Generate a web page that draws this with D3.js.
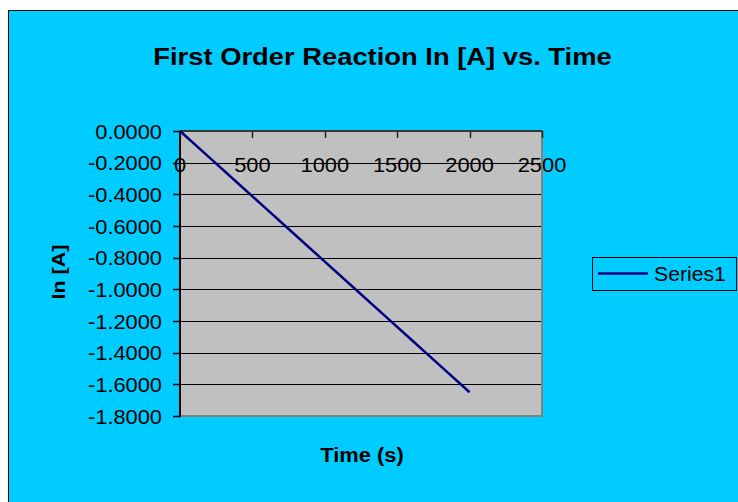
<!DOCTYPE html>
<html>
<head>
<meta charset="utf-8">
<script src="https://cdn.jsdelivr.net/npm/d3@7"></script>
<style>
    html, body { margin: 0; padding: 0; background: #ffffff; }
    svg { display: block; }
    text { font-family: "Liberation Sans", Arial, sans-serif; fill: #000; }
</style>
</head>
<body>
<svg id="chart" width="738" height="502"></svg>
<script>
// data
var times = [0, 200, 400, 600, 800, 1000, 1200, 1400, 1600, 1800, 2000];
var lnA = [0, -0.165, -0.33, -0.495, -0.66, -0.825, -0.99, -1.155, -1.32, -1.485, -1.65];
var xTicks = [0, 500, 1000, 1500, 2000, 2500];
var yTicks = [0, -0.2, -0.4, -0.6, -0.8, -1.0, -1.2, -1.4, -1.6, -1.8];
var seriesName = "Series1";

var svg = d3.select('#chart');

// chart area background + outer border (runs off the right/bottom edge)
svg.append('rect')
    .attr('x', 8.5).attr('y', 10.5)
    .attr('width', 800).attr('height', 600)
    .attr('fill', '#00CCFF')
    .attr('stroke', '#000').attr('stroke-width', 1);

var plot = {left: 180, right: 542, top: 131, bottom: 416};

var x = d3.scaleLinear().domain([0, 2500]).range([plot.left, plot.right]);
var y = d3.scaleLinear().domain([-1.8, 0]).range([plot.bottom, plot.top]);

// stretched text helper, the original is a bit wider than Arial
function label(g, str, px, py, size, sx, anchor, weight, rot) {
    var t = g.append('text')
        .attr('transform', 'translate(' + px + ',' + py + ')' + (rot ? ' rotate(' + rot + ')' : '') + ' scale(' + sx + ',1)')
        .attr('text-anchor', anchor)
        .style('font-size', size + 'px')
        .style('font-weight', weight || 'normal')
        .text(str);
    return t;
}

// plot area
svg.append('rect')
    .attr('x', plot.left).attr('y', plot.top)
    .attr('width', plot.right - plot.left)
    .attr('height', plot.bottom - plot.top)
    .attr('fill', '#C0C0C0')
    .attr('stroke', '#808080').attr('stroke-width', 2);

// gridlines
svg.append('g').selectAll('line')
    .data(yTicks.filter(function (d) { return d < 0 && d > -1.8; }))
    .enter().append('line')
    .attr('x1', plot.left).attr('x2', plot.right - 1)
    .attr('y1', function (d) { return Math.round(y(d)) + 0.5; })
    .attr('y2', function (d) { return Math.round(y(d)) + 0.5; })
    .attr('stroke', '#000').attr('stroke-width', 1);

// y axis
var yAxis = svg.append('g');
yAxis.append('line')
    .attr('x1', plot.left).attr('x2', plot.left)
    .attr('y1', plot.top).attr('y2', plot.bottom + 1)
    .attr('stroke', '#000').attr('stroke-width', 2);
yAxis.selectAll('line.tick')
    .data(yTicks)
    .enter().append('line')
    .attr('class', 'tick')
    .attr('x1', plot.left - 7).attr('x2', plot.left)
    .attr('y1', function (d) { return Math.round(y(d)) + 0.5; })
    .attr('y2', function (d) { return Math.round(y(d)) + 0.5; })
    .attr('stroke', '#000').attr('stroke-width', 1.5);
yTicks.forEach(function (d) {
    label(yAxis, d3.format('.4f')(d).replace('−', '-'), 162, y(d) + 7.5, 21, 1.04, 'end');
});

// x axis sits at y = 0 (top of the plot)
var xAxis = svg.append('g');
xAxis.append('line')
    .attr('x1', plot.left).attr('x2', plot.right)
    .attr('y1', plot.top).attr('y2', plot.top)
    .attr('stroke', '#202020').attr('stroke-width', 1.5);
xAxis.selectAll('line.tick')
    .data(xTicks)
    .enter().append('line')
    .attr('class', 'tick')
    .attr('x1', function (d) { return Math.round(x(d)) + 0.5; })
    .attr('x2', function (d) { return Math.round(x(d)) + 0.5; })
    .attr('y1', plot.top).attr('y2', plot.top + 7)
    .attr('stroke', '#202020').attr('stroke-width', 1.5);
xTicks.forEach(function (d) {
    label(xAxis, String(d), x(d), 172, 21, 1.04, 'middle');
});

// series line
var line = d3.line()
    .x(function (d, i) { return x(times[i]); })
    .y(function (d) { return y(d); });
svg.append('path')
    .datum(lnA)
    .attr('d', line)
    .attr('fill', 'none')
    .attr('stroke', '#000080')
    .attr('stroke-width', 2.5);

// titles
label(svg, 'First Order Reaction In [A] vs. Time', 382.5, 65, 24, 1.14, 'middle', 'bold');
label(svg, 'Time (s)', 362, 462, 20, 1.095, 'middle', 'bold');
label(svg, 'ln [A]', 65, 272, 19, 1.13, 'middle', 'bold', -90);

// legend
var legend = svg.append('g');
legend.append('rect')
    .attr('x', 592.5).attr('y', 257.5)
    .attr('width', 144).attr('height', 33)
    .attr('fill', '#00CCFF')
    .attr('stroke', '#000').attr('stroke-width', 1);
legend.append('line')
    .attr('x1', 598).attr('x2', 648)
    .attr('y1', 273.5).attr('y2', 273.5)
    .attr('stroke', '#000080').attr('stroke-width', 2.5);
label(legend, seriesName, 654, 281, 20, 1.06, 'start');
</script>
</body>
</html>
